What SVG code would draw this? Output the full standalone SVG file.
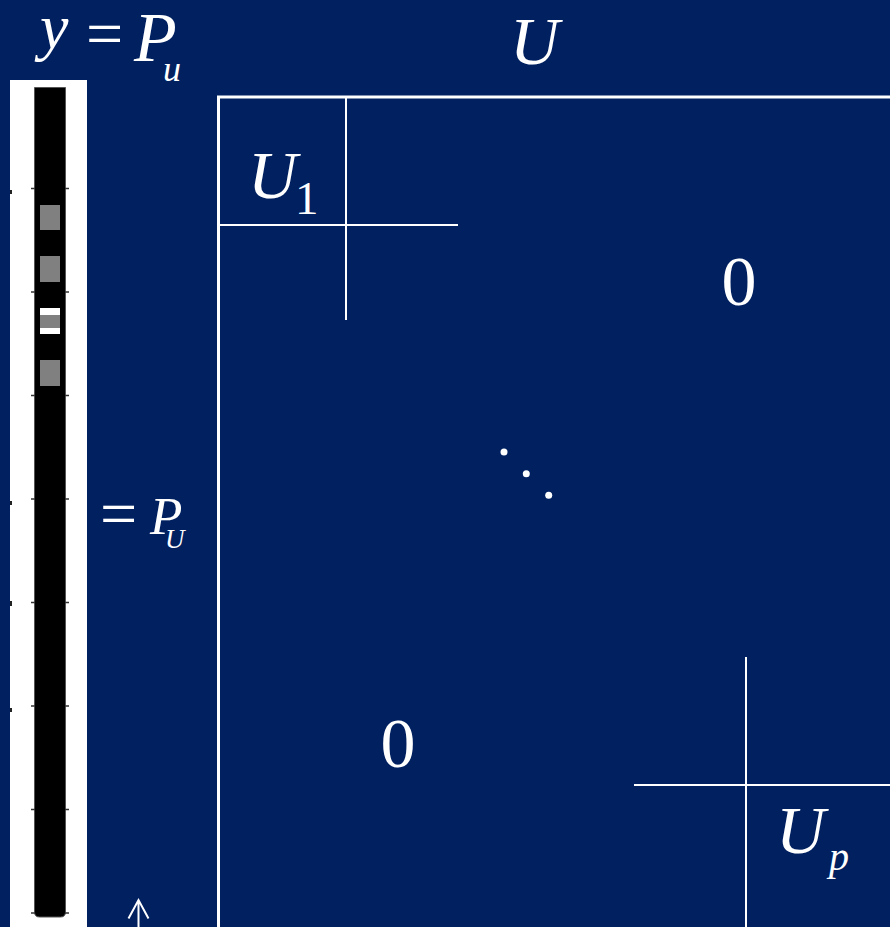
<svg xmlns="http://www.w3.org/2000/svg" width="890" height="927" viewBox="0 0 890 927">
<style>
.t{font-family:"Liberation Serif","Times New Roman",serif;fill:#fff}
.i{font-style:italic}
.ln{stroke:#fff;fill:none}
.tk{stroke:#333;stroke-width:1.5}
.g{fill:#808080}
</style>
<rect width="890" height="927" fill="#002060"/>
<g id="vector">
<rect x="10" y="80" width="77" height="847" fill="#fff"/>
<path d="M34.5 87.5 H65.5 V912 Q65.5 917 60.5 917 H39.5 Q34.5 917 34.5 912 Z" fill="#000" stroke="#555" stroke-width="1"/>
<path class="tk" d="M31 188.5h4M65 188.5h4M31 292h4M65 292h4M31 395.5h4M65 395.5h4M31 499h4M65 499h4M31 602.5h4M65 602.5h4M31 706h4M65 706h4M31 809.5h4M65 809.5h4M31 913h4M65 913h4"/>
<rect class="g" x="40" y="205" width="20" height="25"/>
<rect class="g" x="40" y="256" width="20" height="26"/>
<rect fill="#fff" x="40" y="308" width="20" height="26"/>
<rect class="g" x="40" y="315" width="20" height="13"/>
<rect class="g" x="40" y="360" width="20" height="26"/>
<g fill="#222"><rect x="10" y="190" width="2" height="4"/><rect x="10" y="501" width="2" height="4"/><rect x="10" y="601" width="2" height="5"/><rect x="10" y="708" width="2" height="4"/></g>
</g>
<g id="label-y">
<text class="t i" x="40" y="48" font-size="64">y</text>
<text class="t" x="86" y="56" font-size="66">=</text>
<text class="t i" x="134" y="61" font-size="70">P</text>
<text class="t i" x="163" y="81" font-size="36">u</text>
</g>
<g id="label-PU">
<text class="t" x="100" y="536" font-size="66">=</text>
<text class="t i" x="150" y="534" font-size="53">P</text>
<text class="t i" x="165" y="548" font-size="27">U</text>
</g>
<g id="matrix">
<path class="ln" stroke-width="3" d="M218.5 927 V97 H890"/>
<text class="t i" x="510" y="64" font-size="68">U</text>
</g>
<g id="block-U1">
<path class="ln" stroke-width="2" d="M346 97 V320 M218 225 H458"/>
<text class="t i" x="248" y="198" font-size="68">U</text>
<text class="t" x="295" y="214" font-size="47">1</text>
</g>
<g id="zero-upper"><text class="t" x="739" y="305" font-size="70" text-anchor="middle">0</text></g>
<g id="zero-lower"><text class="t" x="398" y="767" font-size="70" text-anchor="middle">0</text></g>
<g id="dots" fill="#fff">
<circle cx="504" cy="452" r="3.5"/><circle cx="526.3" cy="473.7" r="3.5"/><circle cx="548.7" cy="495.3" r="3.5"/>
</g>
<g id="block-Up">
<path class="ln" stroke-width="2" d="M746 657 V927 M634 785 H890"/>
<text class="t i" x="776" y="853" font-size="68">U</text>
<text class="t i" x="829" y="870" font-size="40">p</text>
</g>
<g id="connectors">
<path class="ln" stroke-width="2" d="M138.5 927 V900 M128.5 918.5 L138.5 900 L148.5 918.5"/>
</g>
</svg>
